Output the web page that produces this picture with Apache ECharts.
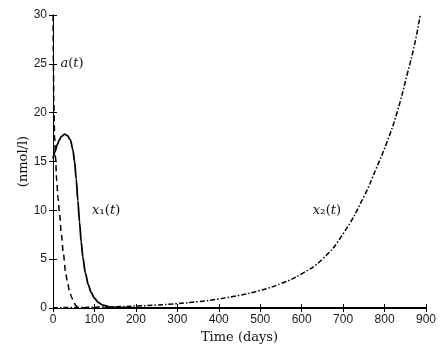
<!DOCTYPE html>
<html>
<head>
<meta charset="utf-8">
<script src="https://cdn.jsdelivr.net/npm/echarts@6/dist/echarts.min.js"></script>
<style>
  html, body { margin: 0; padding: 0; background: #fff; }
  #main { width: 448px; height: 353px; }
</style>
</head>
<body>
<div id="main"></div>
<script>
// axis ticks
const xTicks = [0, 100, 200, 300, 400, 500, 600, 700, 800, 900];
const yTicks = [0, 5, 10, 15, 20, 25, 30];

// a(t), dashed
const aDays = [0, 1, 2, 4, 6, 9, 12, 16, 20, 25, 30, 35, 40, 45, 50, 55, 60, 70, 100, 300, 600, 900];
const aVals = [31, 25, 21, 17.5, 15.5, 13, 11.3, 9.6, 7.6, 5.6, 3.8, 2.6, 1.7, 1.1, 0.6, 0.25, 0.08, 0.02, 0, 0, 0, 0];

// x1(t), solid
const x1Days = [0, 5, 10, 15, 20, 28, 35, 42, 48, 52, 56, 60, 64, 68, 72, 78, 85, 92, 100, 110, 120, 135, 150, 200, 400, 900];
const x1Vals = [15.3, 16.0, 16.7, 17.2, 17.55, 17.8, 17.65, 17.2, 16.2, 15.0, 13.2, 11.0, 8.8, 6.8, 5.2, 3.6, 2.4, 1.6, 1.0, 0.55, 0.3, 0.12, 0.05, 0.02, 0.01, 0.01];

// x2(t), dash-dot
const x2Days = [0, 50, 100, 150, 200, 250, 300, 350, 400, 450, 500, 550, 600, 650, 700, 750, 780, 805, 830, 855, 873, 886];
const x2Vals = [0.03, 0.05, 0.08, 0.13, 0.2, 0.3, 0.45, 0.65, 0.93, 1.3, 1.8, 2.5, 3.5, 5.0, 7.6, 11.4, 14.3, 16.9, 20.0, 24.0, 27.1, 30];

// label anchors [day, value]
const labelA = [46, 25];
const labelX1 = [128, 10];
const labelX2 = [661, 10];

const zip = (xs, ys) => xs.map((x, i) => [x, ys[i]]);

const serif = "DejaVu Serif";
const rich = {
  i: { fontFamily: serif, fontStyle: "italic", fontSize: 13, color: "#111" },
  n: { fontFamily: serif, fontSize: 13, color: "#111" },
  s: { fontFamily: serif, fontSize: 14, color: "#111" }
};

function tag(coord, text) {
  return {
    silent: true,
    symbol: "circle",
    symbolSize: 2,
    itemStyle: { color: "rgba(0,0,0,0)" },
    label: { show: true, position: "inside", formatter: text, rich: rich, color: "#111" },
    data: [{ coord: coord }]
  };
}

let chart = echarts.init(document.getElementById("main"));

const axisCommon = {
  min: 0,
  axisLine: { show: true, lineStyle: { color: "#000", width: 1 } },
  axisTick: { show: true, inside: true, length: 4, lineStyle: { color: "#000" } },
  splitLine: { show: false }
};

chart.setOption({
  animation: false,
  backgroundColor: "#fff",
  grid: { left: 53, right: 22, top: 15, bottom: 45 },
  xAxis: [
    Object.assign({}, axisCommon, {
      type: "value", max: 900, interval: 100, position: "bottom",
      name: "Time (days)", nameLocation: "middle", nameGap: 23, nameMoveOverlap: false,
      nameTextStyle: { fontFamily: serif, fontSize: 13, color: "#111" },
      axisLabel: {
        fontFamily: "Liberation Sans", fontSize: 12, color: "#1a1a1a", margin: 6,
        formatter: v => (xTicks.includes(v) ? String(v) : "")
      }
    }),
    Object.assign({}, axisCommon, {
      type: "value", max: 900, interval: 100, position: "top",
      axisLabel: { show: false }
    })
  ],
  yAxis: [
    Object.assign({}, axisCommon, {
      type: "value", max: 30, interval: 5, position: "left",
      name: "(nmol/l)", nameLocation: "middle", nameGap: 23, nameMoveOverlap: false,
      nameTextStyle: { fontFamily: serif, fontSize: 13, color: "#111" },
      axisLabel: {
        fontFamily: "Liberation Sans", fontSize: 12, color: "#1a1a1a", margin: 6,
        formatter: v => (yTicks.includes(v) ? String(v) : "")
      }
    }),
    Object.assign({}, axisCommon, {
      type: "value", max: 30, interval: 5, position: "right",
      axisLabel: { show: false }
    })
  ],
  series: [
    {
      name: "a(t)", type: "line", showSymbol: false, smooth: 0.3, smoothMonotone: "x",
      data: zip(aDays, aVals),
      lineStyle: { color: "#000", width: 1.5, type: [6, 4] },
      markPoint: tag(labelA, "{i|a}{n|(}{i|t}{n|)}")
    },
    {
      name: "x1(t)", type: "line", showSymbol: false, smooth: 0.3, smoothMonotone: "x",
      data: zip(x1Days, x1Vals),
      lineStyle: { color: "#000", width: 1.8, type: "solid" },
      markPoint: tag(labelX1, "{i|x}{s|₁}{n|(}{i|t}{n|)}")
    },
    {
      name: "x2(t)", type: "line", showSymbol: false, smooth: 0.5,
      data: zip(x2Days, x2Vals),
      lineStyle: { color: "#000", width: 1.5, type: [5, 2, 1.5, 2] },
      markPoint: tag(labelX2, "{i|x}{s|₂}{n|(}{i|t}{n|)}")
    }
  ]
});
</script>
</body>
</html>
